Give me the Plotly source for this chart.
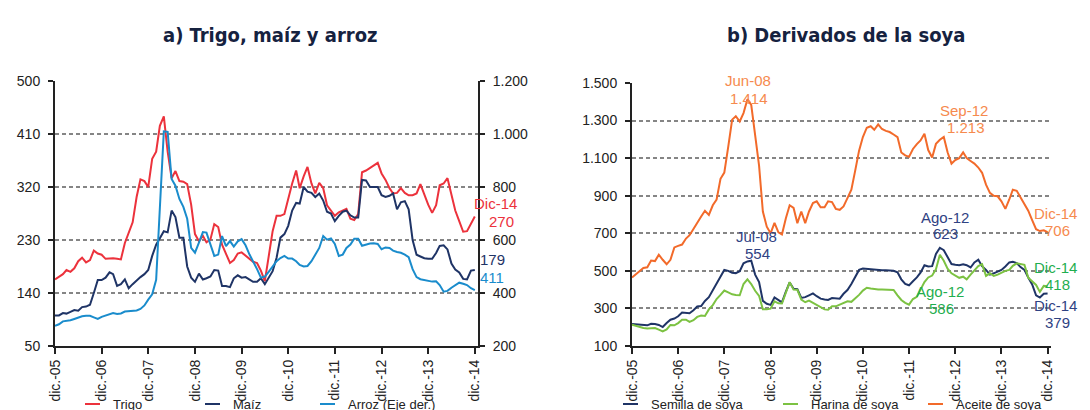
import plotly.graph_objects as go
import pandas as pd

# ---------------- data ----------------
dates = pd.date_range("2005-12-01", periods=109, freq="MS")
year_ticks = dates[::12]
tick_text = ["dic.-%02d" % (d.year % 100) for d in year_ticks]

trigo = [163, 167, 172, 179, 176, 182, 194, 200, 192, 196, 212, 207, 205, 198, 199, 199, 198, 197,
         225, 243, 260, 303, 333, 330, 320, 368, 380, 424, 440, 380, 335, 347, 330, 329, 325, 290,
         240, 228, 237, 226, 231, 257, 252, 222, 205, 191, 196, 207, 209, 204, 199, 193, 191, 178,
         160, 199, 245, 271, 271, 274, 300, 326, 348, 318, 338, 354, 326, 309, 327, 318, 289, 280,
         271, 277, 280, 283, 266, 264, 274, 345, 348, 352, 356, 361, 343, 332, 318, 309, 310, 318,
         310, 306, 306, 309, 325, 306, 290, 276, 289, 323, 326, 335, 309, 280, 262, 244, 245, 257, 270]
maiz = [102, 102, 106, 105, 108, 111, 110, 116, 117, 120, 140, 162, 162, 166, 175, 172, 152, 155,
        163, 148, 155, 162, 167, 172, 179, 203, 222, 233, 245, 243, 280, 269, 234, 234, 185, 166,
        159, 173, 163, 165, 168, 179, 178, 152, 152, 150, 165, 170, 166, 167, 163, 159, 159, 165,
        155, 167, 177, 200, 234, 240, 254, 280, 293, 292, 320, 312, 310, 303, 309, 297, 278, 275,
        262, 271, 278, 280, 272, 268, 268, 332, 331, 320, 320, 320, 306, 303, 305, 309, 282, 294,
        296, 282, 230, 205, 202, 199, 198, 198, 208, 220, 221, 214, 190, 180, 175, 164, 163, 178, 179]
arroz = [276, 282, 293, 295, 297, 302, 308, 312, 314, 314, 308, 302, 310, 315, 320, 324, 321, 323,
         330, 332, 332, 334, 340, 353, 375, 395, 450, 720, 1010, 1008, 830, 805, 755, 725, 680, 570,
         552, 590, 630, 628, 580, 540, 545, 615, 577, 596, 575, 595, 603, 580, 545, 520, 490, 458,
         462, 480, 500, 520, 532, 540, 530, 530, 520, 506, 500, 502, 520, 545, 570, 615, 601, 606,
         585, 540, 545, 570, 583, 605, 605, 578, 583, 587, 588, 585, 565, 572, 570, 560, 555, 552,
         545, 535, 490, 460, 452, 449, 445, 443, 444, 430, 405, 408, 420, 430, 439, 435, 430, 418, 411]

semilla = [217, 215, 214, 213, 210, 218, 217, 212, 201, 222, 240, 246, 258, 278, 276, 274, 290, 310,
           313, 340, 360, 398, 428, 470, 505, 500, 490, 488, 498, 540, 550, 554, 480, 440, 340, 325,
           319, 358, 343, 332, 390, 438, 405, 402, 356, 360, 370, 380, 365, 352, 348, 345, 355, 355,
           352, 378, 398, 430, 470, 505, 512, 510, 505, 503, 503, 503, 503, 503, 500, 492, 455, 430,
           423, 445, 465, 490, 530, 523, 525, 590, 623, 610, 570, 536, 532, 530, 535, 530, 518, 545,
           559, 525, 505, 480, 487, 495, 505, 523, 545, 548, 541, 520, 505, 464, 428, 370, 358, 378, 379]
harina = [213, 206, 200, 196, 193, 195, 196, 187, 178, 188, 212, 210, 222, 240, 240, 228, 237, 255,
          262, 260, 295, 318, 350, 372, 395, 385, 375, 372, 370, 430, 455, 430, 394, 367, 295, 295,
          299, 338, 327, 326, 380, 440, 400, 399, 347, 333, 342, 330, 315, 305, 295, 293, 312, 311,
          320, 332, 338, 335, 352, 372, 395, 410, 406, 403, 401, 401, 401, 400, 398, 370, 345, 330,
          320, 350, 362, 400, 440, 465, 475, 509, 586, 554, 512, 487, 476, 463, 469, 455, 480, 505,
          525, 536, 473, 487, 473, 480, 490, 500, 505, 527, 540, 538, 532, 464, 446, 425, 388, 420, 418]
aceite = [465, 483, 501, 515, 519, 555, 552, 586, 559, 535, 559, 625, 633, 640, 672, 690, 723, 759,
          789, 820, 798, 849, 879, 990, 1023, 1160, 1305, 1323, 1295, 1340, 1414, 1383, 1230, 1060, 816, 735,
          700, 755, 705, 694, 780, 849, 835, 754, 816, 754, 816, 861, 870, 838, 838, 870, 866, 830,
          825, 843, 887, 932, 1032, 1140, 1212, 1262, 1270, 1251, 1280, 1255, 1245, 1239, 1226, 1212, 1130, 1115,
          1107, 1149, 1175, 1194, 1230, 1143, 1103, 1176, 1198, 1213, 1131, 1071, 1090, 1100, 1131, 1100, 1085, 1071,
          1050, 1022, 959, 915, 900, 897, 870, 830, 880, 932, 926, 890, 860, 820, 770, 722, 712, 716, 706]

left_names = ["Trigo", "Maíz", "Arroz (Eje der.)"]
right_names = ["Semilla de soya", "Harina de soya", "Aceite de soya"]
left_y_ticks = [50, 140, 230, 320, 410, 500]
right_y2_ticks = [200, 400, 600, 800, 1000, 1200]
soya_ticks = [100, 300, 500, 700, 900, 1100, 1300, 1500]

# ---------------- style ----------------
W, H = 1090, 410
RED = "#ec323c"
NAVY = "#1f3466"
BLUE = "#1a8ccc"
GREEN = "#7cc242"
ORANGE = "#f26a2a"
LBL_ORANGE = "#f68a4e"
LBL_GREEN = "#1fae4f"
LBL_NAVY = "#2f4283"
GRID = "#858585"
TXT = "#222222"
FONT = "Liberation Sans, Arial, sans-serif"
TITLE_FONT = "Liberation Sans Narrow, DejaVu Sans Condensed, Roboto, sans-serif"


def px(x):
    return x / W


def py(y):
    return 1 - y / H


def fmt(v):
    return f"{v:,}".replace(",", ".")


fig = go.Figure()
fig.add_trace(go.Scatter(x=dates, y=trigo, name=left_names[0], mode="lines",
                         line=dict(color=RED, width=2), xaxis="x", yaxis="y"))
fig.add_trace(go.Scatter(x=dates, y=maiz, name=left_names[1], mode="lines",
                         line=dict(color=NAVY, width=2), xaxis="x", yaxis="y"))
fig.add_trace(go.Scatter(x=dates, y=arroz, name=left_names[2], mode="lines",
                         line=dict(color=BLUE, width=2), xaxis="x", yaxis="y2"))
fig.add_trace(go.Scatter(x=dates, y=semilla, name=right_names[0], mode="lines",
                         line=dict(color=NAVY, width=2), xaxis="x2", yaxis="y3"))
fig.add_trace(go.Scatter(x=dates, y=harina, name=right_names[1], mode="lines",
                         line=dict(color=GREEN, width=2), xaxis="x2", yaxis="y3"))
fig.add_trace(go.Scatter(x=dates, y=aceite, name=right_names[2], mode="lines",
                         line=dict(color=ORANGE, width=2), xaxis="x2", yaxis="y3"))

L_X0, L_X1 = 47, 470
R_X0, R_X1 = 624, 1043
Y_TOP_L, Y_BOT_L = 73, 338
Y_TOP_R, Y_BOT_R = 75, 338

xcommon = dict(
    type="date", tickmode="array", tickvals=list(year_ticks), ticktext=tick_text,
    tickangle=-90, ticks="outside", ticklen=6, tickwidth=1.5, tickcolor="#222",
    showline=True, linecolor="#222", linewidth=2, showgrid=False, zeroline=False,
    tickfont=dict(family=FONT, size=14, color=TXT), automargin=False,
)
ycommon = dict(
    tickmode="array", ticks="outside", ticklen=5, tickwidth=1.5, tickcolor="#222",
    showline=True, linecolor="#222", linewidth=2, zeroline=False,
    tickfont=dict(family=FONT, size=14, color=TXT), automargin=False,
    ticklabelstandoff=5,
    gridcolor=GRID, gridwidth=1.6, griddash="4px,3px",
)

fig.update_layout(
    width=W, height=H, margin=dict(l=0, r=0, t=0, b=0, autoexpand=False),
    paper_bgcolor="white", plot_bgcolor="white", showlegend=False,
    xaxis=dict(xcommon, domain=[px(L_X0), px(L_X1)], anchor="y",
               range=["2005-12-01", "2014-12-26"]),
    yaxis=dict(ycommon, domain=[py(Y_BOT_L), py(Y_TOP_L)], anchor="x",
               range=[50, 500], tickvals=left_y_ticks, ticktext=[str(v) for v in left_y_ticks],
               showgrid=True),
    yaxis2=dict(ycommon, overlaying="y", side="right", anchor="x",
                range=[200, 1200], tickvals=right_y2_ticks, ticktext=[fmt(v) for v in right_y2_ticks],
                showgrid=False),
    xaxis2=dict(xcommon, domain=[px(R_X0), px(R_X1)], anchor="y3",
                range=["2005-12-01", "2014-12-28"]),
    yaxis3=dict(ycommon, domain=[py(Y_BOT_R), py(Y_TOP_R)], anchor="x2",
                range=[100, 1500], tickvals=soya_ticks, ticktext=[fmt(v) for v in soya_ticks],
                showgrid=True),
)

ann = []


def text(x, y, s, color, size=15, xanchor="center", family=FONT, weight=None):
    f = dict(family=family, size=size, color=color)
    if weight:
        f["weight"] = weight
    ann.append(dict(x=px(x), y=py(y), xref="paper", yref="paper", text=s, showarrow=False,
                    xanchor=xanchor, yanchor="middle", font=f))


# titles
text(262, 27, "a) Trigo, maíz y arroz", "#16223f", size=20, family=TITLE_FONT, weight="bold")
text(838, 27, "b) Derivados de la soya", "#16223f", size=20, family=TITLE_FONT, weight="bold")

# end / peak labels, left chart
text(511, 195, "Dic-14", RED, xanchor="right")
text(508, 213, str(trigo[-1]), RED, xanchor="right")
text(484, 251, str(maiz[-1]), NAVY)
text(484, 269, str(arroz[-1]), BLUE)

# right chart labels
text(740, 73, "Jun-08", LBL_ORANGE)
text(741, 91, fmt(max(aceite)), LBL_ORANGE)
text(956, 102, "Sep-12", LBL_ORANGE)
text(958, 119, fmt(aceite[81]), LBL_ORANGE)
text(748, 228, "Jul-08", LBL_NAVY)
text(749, 245, str(semilla[31]), LBL_NAVY)
text(937, 209, "Ago-12", LBL_NAVY)
text(937, 225, str(semilla[80]), LBL_NAVY)
text(932, 283, "Ago-12", LBL_GREEN)
text(933, 300, str(harina[80]), LBL_GREEN)
text(1047, 205, "Dic-14", LBL_ORANGE)
text(1049, 222, str(aceite[-1]), LBL_ORANGE)
text(1047, 259, "Dic-14", LBL_GREEN)
text(1049, 276, str(harina[-1]), LBL_GREEN)
text(1047, 297, "Dic-14", LBL_NAVY)
text(1049, 314, str(semilla[-1]), LBL_NAVY)

# manual legends
shapes = []
legend_items = [
    (77, left_names[0], RED), (197, left_names[1], NAVY), (312, left_names[2], BLUE),
    (615, right_names[0], NAVY), (775, right_names[1], GREEN), (920, right_names[2], ORANGE),
]
LEG_Y = 396
for x0, name, col in legend_items:
    shapes.append(dict(type="line", xref="paper", yref="paper", x0=px(x0), x1=px(x0 + 15),
                       y0=py(LEG_Y), y1=py(LEG_Y), line=dict(color=col, width=2)))
    text(x0 + 26, LEG_Y, name, TXT, size=13, xanchor="left")

fig.update_layout(annotations=ann, shapes=shapes)
fig.write_html("out.html")
